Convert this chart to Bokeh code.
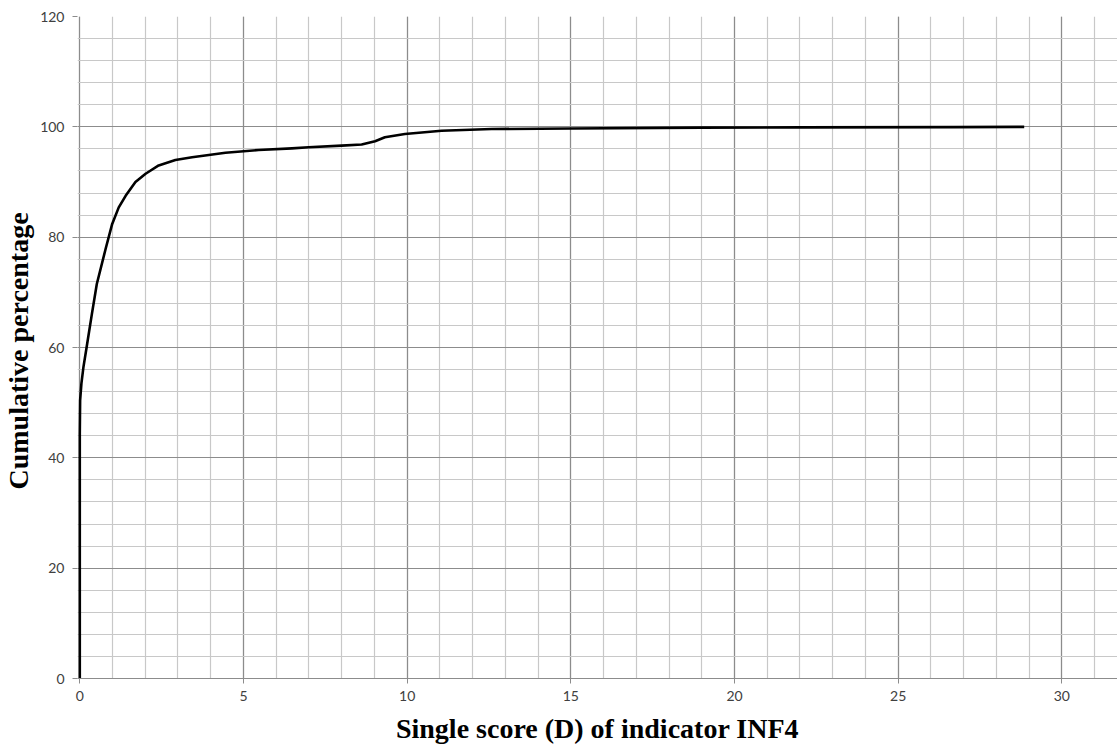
from bokeh.plotting import figure
from bokeh.models import Range1d, SingleIntervalTicker
from bokeh.embed import file_html
from bokeh.resources import INLINE

# Data
score = [0, 0, 0.01, 0.05, 0.11, 0.21, 0.37, 0.52, 0.79, 0.99, 1.19, 1.40, 1.70,
         2.01, 2.41, 2.92, 3.43, 4.45, 5.46, 6.48, 6.99, 8.0, 8.61, 9.02, 9.32,
         9.93, 11.05, 12.58, 15.0, 19.0, 22.0, 26.7, 28.85]
cum_pct = [0, 44.4, 50.4, 53.5, 56.4, 60.1, 66.1, 71.5, 77.9, 82.4, 85.4, 87.5, 90.0,
           91.5, 93.0, 94.0, 94.5, 95.3, 95.8, 96.1, 96.3, 96.6, 96.8, 97.4, 98.1,
           98.7, 99.3, 99.6, 99.7, 99.85, 99.9, 99.95, 100.0]

x_title = "Single score (D) of indicator INF4"
y_title = "Cumulative  percentage"

p = figure(width=1117, height=746, output_backend="svg", toolbar_location=None,
           x_range=Range1d(-0.07, 31.7), y_range=Range1d(0, 120),
           min_border_left=76, min_border_right=0, min_border_top=16, min_border_bottom=68)

p.outline_line_color = None
p.background_fill_color = "white"
p.border_fill_color = "white"

p.xaxis.ticker = SingleIntervalTicker(interval=5, num_minor_ticks=5)
p.yaxis.ticker = SingleIntervalTicker(interval=20, num_minor_ticks=5)

for g in (p.xgrid, p.ygrid):
    g.grid_line_color = "#8c8c8c"
    g.grid_line_width = 1.2
    g.minor_grid_line_color = "#c8c8c8"
    g.minor_grid_line_width = 1.2

for ax in (p.xaxis, p.yaxis):
    ax.axis_line_color = "#8c8c8c"
    ax.axis_line_width = 1.2
    ax.major_tick_line_color = "#8c8c8c"
    ax.major_tick_out = 5
    ax.major_tick_in = 0
    ax.minor_tick_line_color = None
    ax.major_label_text_font = "Lato"
    ax.major_label_text_font_size = "14px"
    ax.major_label_text_color = "#404040"
    ax.axis_label_text_font = "Liberation Serif"
    ax.axis_label_text_font_style = "bold"
    ax.axis_label_text_font_size = "28px"
    ax.axis_label_text_color = "black"

p.yaxis.axis_line_color = None

p.xaxis.axis_label = x_title
p.yaxis.axis_label = y_title
p.xaxis.major_label_standoff = 7
p.yaxis.major_label_standoff = 8
p.xaxis.axis_label_standoff = 9
p.yaxis.axis_label_standoff = 3

p.line(score, cum_pct, line_color="black", line_width=2.6, line_join="round")

open("out.html", "w").write(file_html(p, INLINE))
